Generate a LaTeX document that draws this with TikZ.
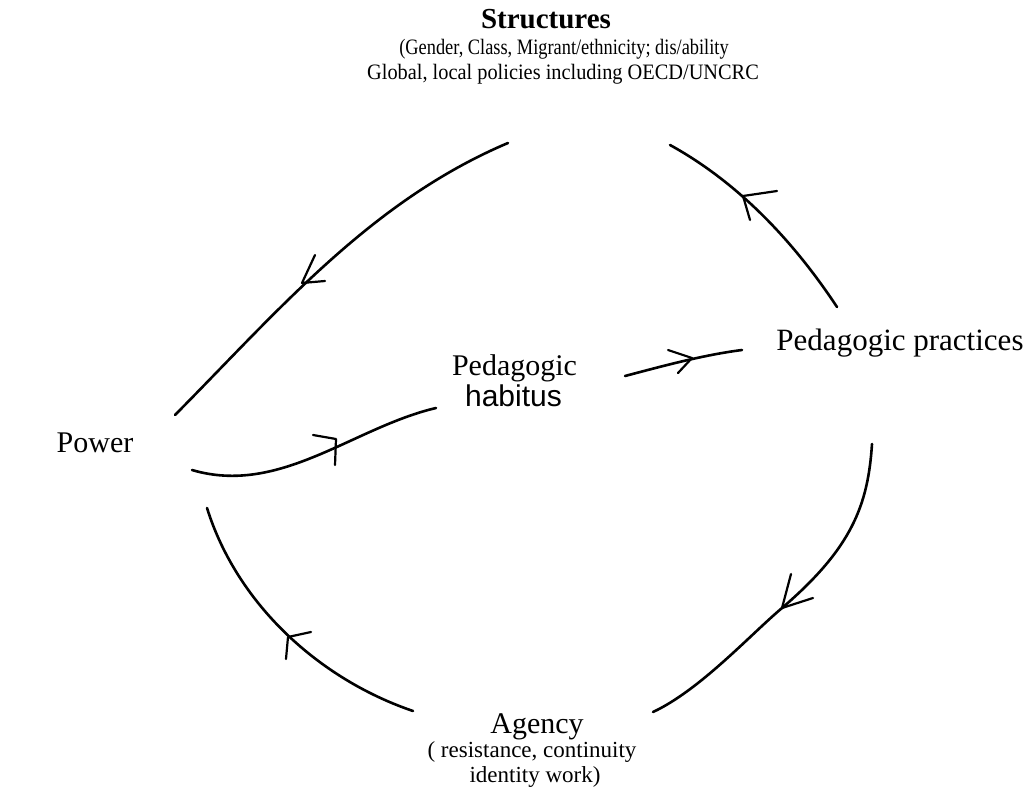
\documentclass[tikz,border=0pt]{standalone}
\usepackage{graphicx}
\usepackage{fontspec}
\setmainfont{Liberation Serif}
\newfontfamily\arialfont{Liberation Sans}
\begin{document}
\begin{tikzpicture}[x=1pt,y=-1pt, line cap=round, line join=round,
  arcline/.style={line width=2.6pt, black},
  tipline/.style={line width=2.2pt, black},
  lbl/.style={inner sep=0pt, anchor=base, font=\fontsize{30}{36}\selectfont},
  sublbl/.style={inner sep=0pt, anchor=base, font=\fontsize{22}{26}\selectfont},
  aglbl/.style={inner sep=0pt, anchor=base, font=\fontsize{23}{28}\selectfont}]
\useasboundingbox (0,0) rectangle (1030,791);
\fill[white] (0,0) rectangle (1030,791);

% labels
\node[inner sep=0pt, anchor=base, font=\bfseries\fontsize{29}{34}\selectfont] (structures) at (546,29) {Structures};
\node[sublbl] (structA) at (564,55) {\scalebox{0.835}[1]{(Gender, Class, Migrant/ethnicity; dis/ability}};
\node[sublbl] (structB) at (563,80) {\scalebox{0.925}[1]{Global, local policies including OECD/UNCRC}};
\node[inner sep=0pt, anchor=base, font=\fontsize{31}{36}\selectfont] (practices) at (900,350) {Pedagogic practices};
\node[lbl] (pedagogic) at (514.5,375) {Pedagogic};
\node[inner sep=0pt, anchor=base, font=\arialfont\fontsize{30}{36}\selectfont] (habitus) at (513.5,406) {habitus};
\node[lbl] (power) at (95,452) {Power};
\node[lbl] (agency) at (537,733) {Agency};
\node[aglbl] (agencyA) at (532,757) {( resistance, continuity};
\node[aglbl] (agencyB) at (535,782) {identity work)};

% arc end points
\coordinate (tlA) at (508,143);  \coordinate (tlB) at (175,415);
\coordinate (trA) at (670,145);  \coordinate (trB) at (837,307);
\coordinate (brA) at (872,444);  \coordinate (brM) at (782,608);  \coordinate (brB) at (653,712);
\coordinate (blA) at (207,508);  \coordinate (blB) at (413,711);
\coordinate (phA) at (192,470);  \coordinate (phB) at (436,408);
\coordinate (hpA) at (625,376);  \coordinate (hpB) at (742,350);

% top-left arc: structures -> power
\draw[arcline] (tlA) .. controls (371,201) and (278,311) .. (tlB);
\draw[tipline] (315,255) -- (302,283) -- (325,281);

% top-right arc: practices -> structures
\draw[arcline] (trA) .. controls (739,183) and (794,242) .. (trB);
\draw[tipline] (777,191) -- (743,196) -- (750,220);

% bottom-right arc: practices -> agency
\draw[arcline] (brA) .. controls (868,505) and (852,548) .. (brM)
                     .. controls (750,635) and (700,690) .. (brB);
\draw[tipline] (791,574) -- (782,608) -- (813,598);

% bottom-left arc: agency -> power
\draw[arcline] (blA) .. controls (237,604) and (319,679) .. (blB);
\draw[tipline] (311,632) -- (288,637) -- (286,659);

% power -> habitus
\draw[arcline] (phA) .. controls (280,496) and (353,427.5) .. (phB);
\draw[tipline] (313,435) -- (336,439) -- (335,465);

% habitus -> practices
\draw[arcline] (hpA) .. controls (663,366) and (703,355) .. (hpB);
\draw[tipline] (668,350) -- (692,358) -- (678,373);
\end{tikzpicture}
\end{document}
